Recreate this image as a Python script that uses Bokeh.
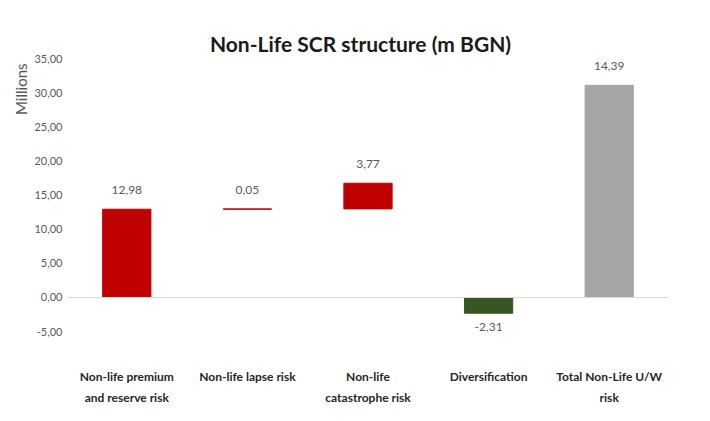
from bokeh.plotting import figure
from bokeh.models import ColumnDataSource, FixedTicker, Label, Span, Title
from bokeh.embed import file_html
from bokeh.resources import INLINE
from bokeh.core.properties import value

# ---- data ----
categories = ["Non-life premium\nand reserve risk", "Non-life lapse risk",
              "Non-life\ncatastrophe risk", "Diversification",
              "Total Non-Life U/W\nrisk"]
value_labels = ["12,98", "0,05", "3,77", "-2,31", "14,39"]
bar_bottoms = [0.0, 12.98, 13.03, 0.0, 0.0]
bar_tops = [12.98, 13.03, 16.80, -2.31, 31.20]
bar_colors = ["#C00000", "#C00000", "#C00000", "#375623", "#A5A5A5"]
y_ticks = [-5, 0, 5, 10, 15, 20, 25, 30, 35]
title_text = "Non-Life SCR structure (m BGN)"
y_label_text = "Millions"

FONT = "Lato"

label_y = [max(b, t) if t >= b else min(b, t) for b, t in zip(bar_bottoms, bar_tops)]
label_off = [-19 if t >= b else 14 for b, t in zip(bar_bottoms, bar_tops)]

src = ColumnDataSource(dict(cat=categories, bottom=bar_bottoms, top=bar_tops,
                            color=bar_colors, ly=label_y, loff=label_off,
                            lab=value_labels))

p = figure(width=700, height=413, x_range=categories, y_range=(-8.97, 39.26),
           output_backend="svg", toolbar_location=None,
           min_border_left=66, min_border_right=31, min_border_top=30,
           min_border_bottom=55)
p.x_range.range_padding = 0
p.outline_line_color = None
p.background_fill_color = "white"
p.border_fill_color = "white"
p.xgrid.grid_line_color = None
p.ygrid.grid_line_color = None

p.vbar(x="cat", bottom="bottom", top="top", width=0.4, fill_color="color",
       line_color="color", line_width=1, source=src)

p.add_layout(Span(location=0, dimension="width", line_color="#D9D9D9", line_width=1))

p.text(x="cat", y="ly", text="lab", y_offset="loff", source=src,
       text_align="center", text_baseline="middle", text_font=value(FONT),
       text_font_size="12px", text_color="#595959")

# axes
p.yaxis.ticker = FixedTicker(ticks=y_ticks)
p.yaxis.major_label_overrides = {t: f"{t:.2f}".replace(".", ",") for t in y_ticks}
p.yaxis.axis_line_color = None
p.yaxis.major_tick_line_color = None
p.yaxis.minor_tick_line_color = None
p.yaxis.major_tick_out = 0
p.yaxis.major_label_standoff = 4
p.yaxis.major_label_text_font = FONT
p.yaxis.major_label_text_font_size = "11px"
p.yaxis.major_label_text_color = "#595959"

p.xaxis.axis_line_color = None
p.xaxis.major_tick_line_color = None
p.xaxis.minor_tick_line_color = None
p.xaxis.major_tick_out = 0
p.xaxis.major_label_standoff = 10
p.xaxis.major_label_text_font = FONT
p.xaxis.major_label_text_font_style = "bold"
p.xaxis.major_label_text_font_size = "12px"
p.xaxis.major_label_text_color = "#262626"
p.xaxis.major_label_text_line_height = 1.45

p.add_layout(Label(x=294, y=37.35, x_units="screen", y_units="data", text=title_text,
                   text_align="center", text_baseline="middle", text_font=FONT,
                   text_font_style="bold", text_font_size="21px", text_color="#1a1a1a"))
p.add_layout(Title(text=y_label_text, align="right", offset=33, standoff=4,
                   text_font=FONT, text_font_style="normal", text_font_size="15px",
                   text_color="#595959"), "left")

open("out.html", "w").write(file_html(p, INLINE))
